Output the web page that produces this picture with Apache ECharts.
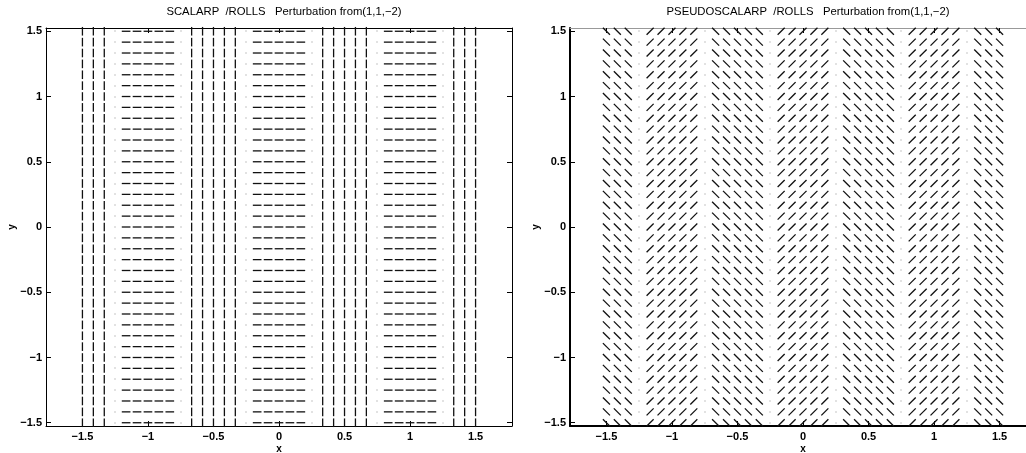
<!DOCTYPE html>
<html>
<head>
<meta charset="utf-8">
<script src="https://cdn.jsdelivr.net/npm/echarts@6/dist/echarts.min.js"></script>
<style>
  html, body { margin: 0; padding: 0; background: #fff; }
  #chart { width: 1026px; height: 453px; }
</style>
</head>
<body>
<div id="chart"></div>
<script>
// Grid sample positions (step 1/12 from -1.5 to 1.5)
const xGrid = [-1.5, -1.4167, -1.3333, -1.25, -1.1667, -1.0833, -1, -0.9167, -0.8333, -0.75,
  -0.6667, -0.5833, -0.5, -0.4167, -0.3333, -0.25, -0.1667, -0.0833, 0, 0.0833, 0.1667, 0.25,
  0.3333, 0.4167, 0.5, 0.5833, 0.6667, 0.75, 0.8333, 0.9167, 1, 1.0833, 1.1667, 1.25,
  1.3333, 1.4167, 1.5];
const yGrid = xGrid.slice();

// Director angle (degrees) of each grid column; null = vanishing amplitude (drawn as a dot)
const scalarAngle = [90, 90, 90, null, 0, 0, 0, 0, 0, null, 90, 90, 90, 90, 90, null,
  0, 0, 0, 0, 0, null, 90, 90, 90, 90, 90, null, 0, 0, 0, 0, 0, null, 90, 90, 90];
const pseudoAngle = [-45, -45, -45, null, 45, 45, 45, 45, 45, null, -45, -45, -45, -45, -45, null,
  45, 45, 45, 45, 45, null, -45, -45, -45, -45, -45, null, 45, 45, 45, 45, 45, null, -45, -45, -45];

// Half length of a director segment, data units
const scalarHalf = 0.033;
const pseudoHalf = 0.038;

const tickValues = [-1.5, -1, -0.5, 0, 0.5, 1, 1.5];
const titles = ['SCALARP  /ROLLS   Perturbation from(1,1,\u22122)',
                'PSEUDOSCALARP  /ROLLS   Perturbation from(1,1,\u22122)'];

function buildField(angles, half) {
  const out = [];
  yGrid.forEach(function (y) {
    xGrid.forEach(function (x, i) {
      const a = angles[i];
      if (a === null) { out.push([x, y, 0, 0]); return; }
      const r = a * Math.PI / 180;
      out.push([x, y, half * Math.cos(r), half * Math.sin(r)]);
    });
  });
  return out;
}

function renderSegment(params, api) {
  const x = api.value(0), y = api.value(1), u = api.value(2), v = api.value(3);
  if (u === 0 && v === 0) {
    const p = api.coord([x, y]);
    return { type: 'rect', shape: { x: Math.round(p[0]) - 0.5, y: Math.round(p[1]) - 0.5, width: 1, height: 1 },
      style: { fill: '#8a8a8a' } };
  }
  const p1 = api.coord([x - u, y - v]);
  const p2 = api.coord([x + u, y + v]);
  return { type: 'line', shape: { x1: p1[0], y1: p1[1], x2: p2[0], y2: p2[1] },
    style: { stroke: '#111', lineWidth: 1.3, lineCap: 'butt' } };
}

const FONT = 'Liberation Sans, Arial, Helvetica, sans-serif';
const fmt = function (v) { return String(v).replace('-', '\u2212'); };

const XMIN = -1.778, XMAX = 1.778, YMIN = -1.525, YMAX = 1.525;
const gridsPos = [
  { left: 46, top: 28, width: 466, height: 398, outerBoundsMode: 'none', containLabel: false },
  { left: 570, top: 28, width: 466, height: 398, outerBoundsMode: 'none', containLabel: false }
];

const xAxes = [], yAxes = [], series = [], titleOpts = [];
gridsPos.forEach(function (g, k) {
  const mainLine = k === 0 ? { color: '#000', width: 1 } : { color: '#000', width: 2 };
  const topLine = k === 0 ? { color: '#000', width: 1 } : { color: '#999', width: 1 };
  xAxes.push({
    gridIndex: k, type: 'value', position: 'bottom', min: XMIN, max: XMAX,
    axisLine: { show: true, onZero: false, lineStyle: mainLine },
    axisTick: { show: true, inside: true, length: 5, customValues: tickValues, lineStyle: { color: '#000', width: 1 } },
    axisLabel: { show: true, customValues: tickValues, formatter: fmt, margin: 5,
      fontFamily: FONT, fontSize: 11, fontWeight: 'bold', color: '#000' },
    splitLine: { show: false },
    name: 'x', nameLocation: 'middle', nameGap: 18, nameMoveOverlap: false,
    nameTextStyle: { fontFamily: FONT, fontSize: 10, fontWeight: 'bold', color: '#000' }
  });
  xAxes.push({
    gridIndex: k, type: 'value', position: 'top', min: XMIN, max: XMAX,
    axisLine: { show: true, onZero: false, lineStyle: topLine },
    axisTick: { show: true, inside: true, length: 5, customValues: tickValues, lineStyle: { color: '#000', width: 1 } },
    axisLabel: { show: false }, splitLine: { show: false }
  });
  yAxes.push({
    gridIndex: k, type: 'value', position: 'left', min: YMIN, max: YMAX,
    axisLine: { show: true, onZero: false, lineStyle: mainLine },
    axisTick: { show: true, inside: true, length: 5, customValues: tickValues, lineStyle: { color: '#000', width: 1 } },
    axisLabel: { show: true, customValues: tickValues, formatter: fmt, margin: 4,
      fontFamily: FONT, fontSize: 11, fontWeight: 'bold', color: '#000' },
    splitLine: { show: false },
    name: 'y', nameLocation: 'middle', nameGap: 29, nameRotate: 90, nameMoveOverlap: false,
    nameTextStyle: { fontFamily: FONT, fontSize: 10, fontWeight: 'bold', color: '#000' }
  });
  yAxes.push({
    gridIndex: k, type: 'value', position: 'right', min: YMIN, max: YMAX,
    axisLine: { show: true, onZero: false, lineStyle: { color: '#000', width: 1 } },
    axisTick: { show: true, inside: true, length: 5, customValues: tickValues, lineStyle: { color: '#000', width: 1 } },
    axisLabel: { show: false }, splitLine: { show: false }
  });
  series.push({
    type: 'custom', xAxisIndex: 2 * k, yAxisIndex: 2 * k, clip: false, silent: true,
    renderItem: renderSegment,
    data: buildField(k === 0 ? scalarAngle : pseudoAngle, k === 0 ? scalarHalf : pseudoHalf)
  });
  titleOpts.push({
    text: titles[k], left: g.left + 233, top: 1, textAlign: 'center',
    textStyle: { fontFamily: FONT, fontSize: 11.3, fontWeight: 'normal', color: '#000' }
  });
});

const chart = echarts.init(document.getElementById('chart'), null, { renderer: 'canvas' });
chart.setOption({
  animation: false,
  backgroundColor: '#fff',
  title: titleOpts,
  grid: gridsPos,
  xAxis: xAxes,
  yAxis: yAxes,
  series: series
});
</script>
</body>
</html>
